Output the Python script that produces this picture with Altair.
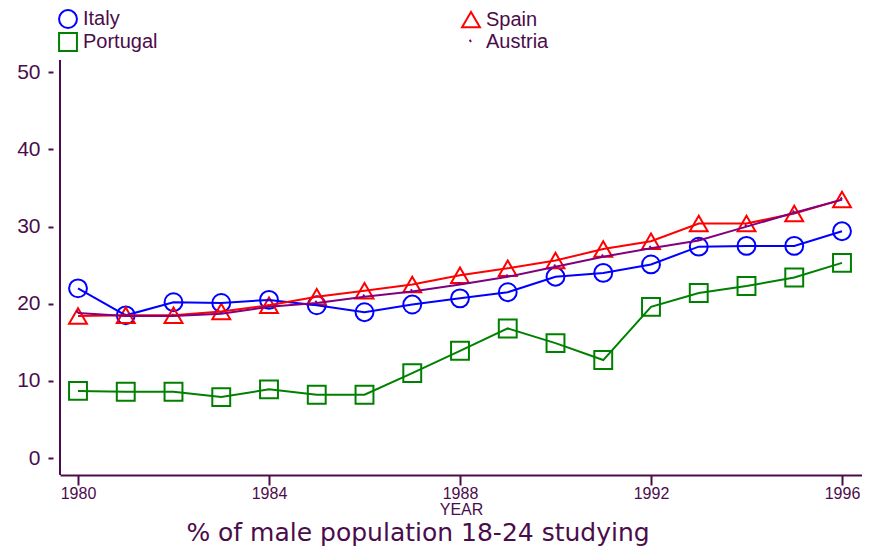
import altair as alt
import pandas as pd

years = list(range(1980, 1997))
italy = [22.0, 18.5, 20.2, 20.1, 20.5, 19.8, 18.9, 19.9, 20.7, 21.5, 23.5, 24.0, 25.1, 27.4, 27.5, 27.5, 29.4]
spain = [18.4, 18.5, 18.5, 19.0, 19.8, 20.9, 21.7, 22.5, 23.7, 24.6, 25.6, 27.1, 28.1, 30.4, 30.4, 31.7, 33.5]
portugal = [8.7, 8.6, 8.6, 7.9, 8.9, 8.2, 8.2, 11.0, 13.9, 16.8, 14.9, 12.7, 19.6, 21.4, 22.3, 23.4, 25.3]
austria = [18.8, 18.4, 18.4, 18.7, 19.6, 20.1, 20.9, 21.6, 22.5, 23.5, 24.8, 26.1, 27.2, 28.2, 30.0, 31.8, 33.5]

# legend fills column by column: Italy/Portugal left, Spain/Austria right
countries = ["Italy", "Portugal", "Spain", "Austria"]
series = [italy, portugal, spain, austria]
colors = ["#0000ff", "#008000", "#ff0000", "#800080"]
shapes = ["circle", "square", "triangle-up", "M-0.15,-0.25L0.0,0.0"]
x_ticks = [1980, 1984, 1988, 1992, 1996]
y_ticks = [0, 10, 20, 30, 40, 50]

rows = []
for name, vals in zip(countries, series):
    for yr, v in zip(years, vals):
        rows.append({"year": yr, "country": name, "value": v})
df = pd.DataFrame(rows)

TXT = "#4b0c4b"
FONT = "Liberation Sans"
W, H = 802, 415

x = alt.X(
    "year:Q",
    scale=alt.Scale(domain=[1979.623, 1996.419], nice=False, zero=False),
    axis=alt.Axis(
        values=x_ticks, format="d", title="YEAR", grid=False,
        domainColor=TXT, domainWidth=2, tickColor=TXT, tickWidth=2, tickSize=10,
        labelFont=FONT, labelFontSize=16, labelColor=TXT, labelPadding=0, labelFlush=False,
        titleFont=FONT, titleFontSize=16, titleFontWeight="normal", titleColor=TXT,
        titleBaseline="alphabetic", titleY=39,
    ),
)
y = alt.Y(
    "value:Q",
    scale=alt.Scale(domain=[-2.2, 51.6], nice=False, zero=False),
    axis=alt.Axis(
        values=y_ticks, title=None, grid=False, domain=False, offset=7,
        tickSize=5, tickWidth=2, tickColor=TXT,
        labelFont=FONT, labelFontSize=21, labelColor=TXT, labelPadding=8,
    ),
)

leg = alt.Legend(
    orient="none", legendX=-2, legendY=-51, columns=2, columnPadding=300,
    rowPadding=-10, title=None, symbolSize=320, symbolStrokeWidth=2,
    symbolFillColor="transparent",
    labelFont=FONT, labelFontSize=20, labelColor=TXT, labelOffset=5,
    padding=0, gridAlign="each",
)
cscale = alt.Scale(domain=countries, range=colors)
sscale = alt.Scale(domain=countries, range=shapes)

base = alt.Chart(df)
points = base.mark_point(filled=False, size=320, strokeWidth=2, opacity=1).encode(
    x=x, y=y,
    color=alt.Color("country:N", scale=cscale, legend=leg),
    shape=alt.Shape("country:N", scale=sscale, legend=leg),
)
lines = base.mark_line(strokeWidth=2).encode(
    x=x, y=y, color=alt.Color("country:N", scale=cscale, legend=None)
)
yline = alt.Chart(pd.DataFrame({"a": [0]})).mark_rule(color=TXT, strokeWidth=2).encode(
    x=alt.value(0), y=alt.value(0), y2=alt.value(H)
)

chart = alt.layer(points, lines, yline).properties(
    width=W, height=H,
    background="white",
    autosize=alt.AutoSizeParams(type="none"),
    padding={"left": 52, "top": 52, "right": 0, "bottom": 72},
    title=alt.TitleParams(
        "% of male population 18-24 studying", orient="bottom", anchor="middle",
        dx=-43, offset=24, baseline="alphabetic", fontSize=25, font="DejaVu Sans",
        color=TXT, fontWeight="normal",
    ),
).configure_view(strokeWidth=0)

chart.save("out.html", embed_options={"renderer": "svg", "actions": False})
